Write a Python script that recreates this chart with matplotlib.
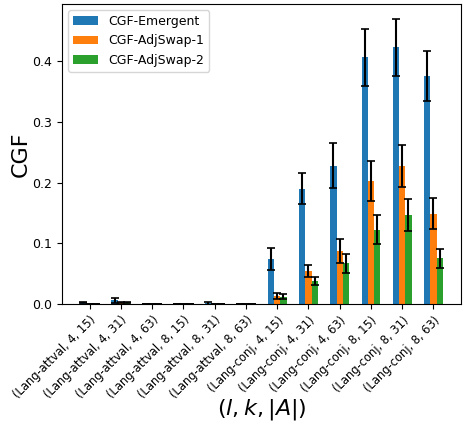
import matplotlib
matplotlib.use('Agg')
import matplotlib.pyplot as plt
import numpy as np

categories = [
    "(Lang-attval, 4, 15)", "(Lang-attval, 4, 31)", "(Lang-attval, 4, 63)",
    "(Lang-attval, 8, 15)", "(Lang-attval, 8, 31)", "(Lang-attval, 8, 63)",
    "(Lang-conj, 4, 15)", "(Lang-conj, 4, 31)", "(Lang-conj, 4, 63)",
    "(Lang-conj, 8, 15)", "(Lang-conj, 8, 31)", "(Lang-conj, 8, 63)",
]

emergent = [0.002, 0.006, 0.0, 0.0, 0.001, 0.0, 0.074, 0.190, 0.228, 0.406, 0.423, 0.376]
emergent_err = [0.001, 0.004, 0.0, 0.0, 0.002, 0.0, 0.018, 0.025, 0.037, 0.047, 0.047, 0.041]
swap1 = [0.0, 0.002, 0.0, 0.0, 0.0, 0.0, 0.013, 0.055, 0.087, 0.203, 0.227, 0.149]
swap1_err = [0.0, 0.001, 0.0, 0.0, 0.0, 0.0, 0.005, 0.010, 0.020, 0.033, 0.035, 0.025]
swap2 = [0.0, 0.002, 0.0, 0.0, 0.0, 0.0, 0.012, 0.038, 0.067, 0.122, 0.147, 0.075]
swap2_err = [0.0, 0.001, 0.0, 0.0, 0.0, 0.0, 0.004, 0.007, 0.016, 0.024, 0.026, 0.016]

fig = plt.figure(figsize=(4.63, 4.25), dpi=100)
ax = fig.add_axes([62 / 463, 121 / 425, 399 / 463, 300 / 425])

x = np.arange(len(categories))
w = 0.2
err_kw = dict(ecolor='black', capsize=3, elinewidth=1.5, capthick=1.2)
ax.bar(x - w, emergent, w, yerr=emergent_err, color='#1f77b4', label='CGF-Emergent', error_kw=err_kw)
ax.bar(x, swap1, w, yerr=swap1_err, color='#ff7f0e', label='CGF-AdjSwap-1', error_kw=err_kw)
ax.bar(x + w, swap2, w, yerr=swap2_err, color='#2ca02c', label='CGF-AdjSwap-2', error_kw=err_kw)

ax.set_xticks(x)
ax.set_xticklabels(categories, rotation=45, ha='right', rotation_mode='anchor', fontsize=8.3)
ax.tick_params(axis='y', labelsize=9)
ax.set_ylim(0, 0.494)
ax.set_yticks([0.0, 0.1, 0.2, 0.3, 0.4])
ax.set_ylabel('CGF', fontsize=16)
ax.yaxis.set_label_coords(-0.078, 0.5)
ax.set_xlabel(r'$(l, k, |A|)$', fontsize=16)
ax.xaxis.set_label_coords(0.5, -0.31)
ax.legend(loc='upper left', fontsize=9)

fig.savefig('out.png', dpi=100)
